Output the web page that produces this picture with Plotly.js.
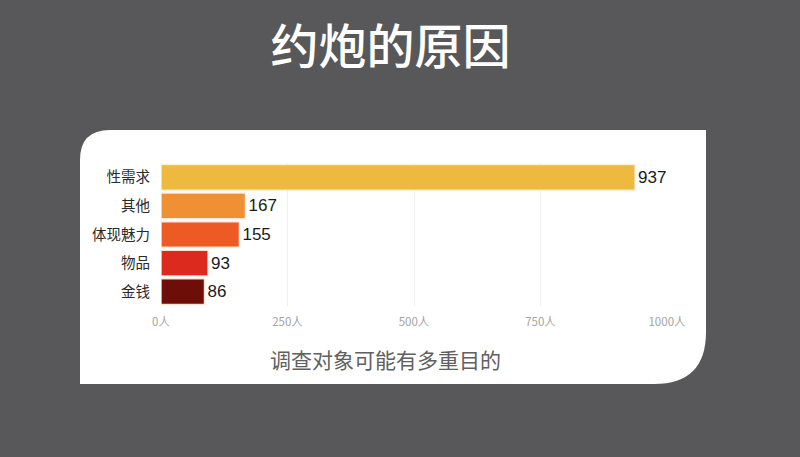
<!DOCTYPE html>
<html>
<head>
<meta charset="utf-8">
<script src="https://cdn.plot.ly/plotly-3.0.1.min.js"></script>
<style>
  html, body { margin: 0; padding: 0; background: #58585a; }
  #chart { width: 800px; height: 457px; }
</style>
</head>
<body>
<div id="chart"></div>
<script>
// Values.
const reasons = ["性需求", "其他", "体现魅力", "物品", "金钱"];
const counts  = [937, 167, 155, 93, 86];
const barColors = ["#edb93f", "#ef9035", "#ee5a24", "#dd2a1e", "#6e0e08"];
const tickVals = [0, 250, 500, 750, 1000];
const tickText = tickVals.map(v => v + "人");
const note = "调查对象可能有多重目的";

const W = 800, H = 457;
const M = { l: 161, r: 133, t: 163, b: 151 };
const plotW = W - M.l - M.r, plotH = H - M.t - M.b;

// pixel -> paper helpers for the white card and the note below the axis
const px = x => (x - M.l) / plotW;
const py = y => (H - M.b - y) / plotH;

function cardPath(left, top, right, bottom, rTL, rBR) {
  return [
    `M ${px(left)},${py(top + rTL)}`,
    `Q ${px(left)},${py(top)} ${px(left + rTL)},${py(top)}`,
    `L ${px(right)},${py(top)}`,
    `L ${px(right)},${py(bottom - rBR)}`,
    `Q ${px(right)},${py(bottom)} ${px(right - rBR)},${py(bottom)}`,
    `L ${px(left)},${py(bottom)}`,
    "Z",
  ].join(" ");
}

const data = [{
  type: "bar",
  orientation: "h",
  x: counts,
  y: reasons,
  marker: {
    color: barColors,
    line: { color: "rgba(255,240,225,0.9)", width: 1.5 },
  },
  text: counts.map(String),
  textposition: "outside",
  textfont: { family: "Liberation Sans, Arial, sans-serif", size: 17, color: "#1a1a1a" },
  cliponaxis: false,
  hoverinfo: "skip",
}];

const layout = {
  width: W, height: H,
  margin: M,
  paper_bgcolor: "#58585a",
  plot_bgcolor: "rgba(0,0,0,0)",
  showlegend: false,
  bargap: 0.1,
  font: { family: "Noto Sans CJK SC, sans-serif", color: "#333" },
  title: {
    text: "约炮的原因",
    x: 0.488, xanchor: "center",
    y: 0.897, yanchor: "middle",
    font: { family: "Noto Sans CJK SC, sans-serif", size: 48, weight: 500, color: "#ffffff" },
  },
  xaxis: {
    range: [0, 1000],
    tickvals: tickVals,
    ticktext: tickText,
    tickfont: { size: 11.5, color: "#a3a3a3" },
    showgrid: true,
    gridcolor: "#f0f0f0",
    gridwidth: 1,
    zeroline: false,
    showline: false,
    ticks: "",
    ticklabelstandoff: 7,
    fixedrange: true,
  },
  yaxis: {
    categoryorder: "array",
    categoryarray: reasons,
    autorange: "reversed",
    tickfont: { size: 14.5, color: "#2a2a2a" },
    ticks: "",
    ticklabelstandoff: 10,
    showgrid: false,
    zeroline: false,
    showline: false,
    fixedrange: true,
  },
  annotations: [{
    xref: "paper", yref: "paper",
    x: px(385), y: py(359),
    xanchor: "center", yanchor: "middle",
    text: note,
    showarrow: false,
    font: { size: 21, color: "#606060" },
  }],
  shapes: [{
    type: "path",
    xref: "paper", yref: "paper",
    path: cardPath(80, 130, 706, 384, 30, 52),
    fillcolor: "#ffffff",
    line: { width: 0 },
    layer: "below",
  }],
};

Plotly.newPlot("chart", data, layout, { displayModeBar: false, staticPlot: true });
</script>
</body>
</html>
